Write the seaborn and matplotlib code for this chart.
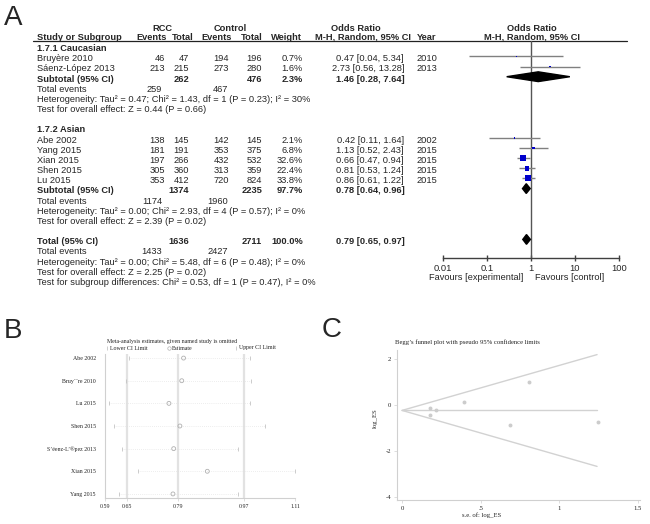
import numpy as np
import pandas as pd
import matplotlib
matplotlib.use("Agg")
import matplotlib.pyplot as plt
import seaborn as sns
from matplotlib.patches import Polygon
from matplotlib.ticker import NullLocator

# ---- data: forest plot (panel A) ----
studies = ["Bruyère 2010", "Sáenz-López 2013", "Abe 2002", "Yang 2015", "Xian 2015", "Shen 2015", "Lu 2015"]
rcc_events = [46, 213, 138, 181, 197, 305, 353]
rcc_total = [47, 215, 145, 191, 266, 360, 412]
ctl_events = [194, 273, 142, 353, 432, 313, 720]
ctl_total = [196, 280, 145, 375, 532, 359, 824]
weight = [0.7, 1.6, 2.1, 6.8, 32.6, 22.4, 33.8]
or_est = [0.47, 2.73, 0.42, 1.13, 0.66, 0.81, 0.86]
or_lo = [0.04, 0.56, 0.11, 0.52, 0.47, 0.53, 0.61]
or_hi = [5.34, 13.28, 1.64, 2.43, 0.94, 1.24, 1.22]
year = [2010, 2013, 2002, 2015, 2015, 2015, 2015]

pool_names = ["Subtotal (95% CI)", "Subtotal (95% CI)", "Total (95% CI)"]
pool_rcc_total = [262, 1374, 1636]
pool_ctl_total = [476, 2235, 2711]
pool_weight = ["2.3%", "97.7%", "100.0%"]
pool_est = [1.46, 0.78, 0.79]
pool_lo = [0.28, 0.64, 0.65]
pool_hi = [7.64, 0.96, 0.97]
events_rcc = [259, 1174, 1433]
events_ctl = [467, 1960, 2427]
het_text = [
    "Heterogeneity: Tau² = 0.47; Chi² = 1.43, df = 1 (P = 0.23); I² = 30%",
    "Heterogeneity: Tau² = 0.00; Chi² = 2.93, df = 4 (P = 0.57); I² = 0%",
    "Heterogeneity: Tau² = 0.00; Chi² = 5.48, df = 6 (P = 0.48); I² = 0%",
]
effect_text = [
    "Test for overall effect: Z = 0.44 (P = 0.66)",
    "Test for overall effect: Z = 2.39 (P = 0.02)",
    "Test for overall effect: Z = 2.25 (P = 0.02)",
]
subgroup_text = "Test for subgroup differences: Chi² = 0.53, df = 1 (P = 0.47), I² = 0%"
or_ticks = [0.01, 0.1, 1, 10, 100]
or_ticklabels = ["0.01", "0.1", "1", "10", "100"]

# ---- data: leave-one-out (panel B) ----
loo_names = ["Abe 2002", "Bruy\u00b4\u00a8re 2010", "Lu 2015", "Shen 2015",
             "S\u2019\u00e9enz-L\u2019\u00aepez 2013", "Xian 2015", "Yang 2015"]
loo_est = [0.805, 0.80, 0.765, 0.795, 0.778, 0.87, 0.776]
loo_lo = [0.656, 0.647, 0.60, 0.615, 0.636, 0.68, 0.628]
loo_hi = [0.987, 0.99, 0.987, 1.028, 0.954, 1.11, 0.955]
loo_ticks = [0.59, 0.65, 0.79, 0.97, 1.11]
loo_reflines = [0.65, 0.79, 0.97]

# ---- data: Begg's funnel (panel C) ----
se_log_es = [1.248, 0.808, 0.689, 0.393, 0.177, 0.217, 0.177]
log_es = [-0.755, 1.004, -0.868, 0.122, -0.416, -0.211, -0.151]
funnel_se = [0, 1.24]
funnel_mid = [-0.236, -0.236]
funnel_upper = [-0.236, 2.19]
funnel_lower = [-0.236, -2.67]

sns.set_style("white")
plt.rcParams["font.family"] = ["Liberation Sans", "DejaVu Sans"]
plt.rcParams["axes.unicode_minus"] = False

W, H = 650, 524
fig = plt.figure(figsize=(6.5, 5.24), dpi=100)
fig.patch.set_facecolor("white")

ax_t = fig.add_axes([0, 0, 1, 1])
ax_t.set_xlim(0, W)
ax_t.set_ylim(H, 0)
ax_t.axis("off")


def px_axes(l, t, r, b):
    a = fig.add_axes([l / W, 1 - b / H, (r - l) / W, (b - t) / H])
    a.set_facecolor("none")
    return a


FS = 6.7
ROW0, ROWH = 47.7, 10.17


def row_y(k):
    return ROW0 + ROWH * k + 3.3


def txt(x, k, s, ha="left", bold=False):
    ax_t.text(x, row_y(k), s, ha=ha, va="baseline", fontsize=FS,
              fontweight="bold" if bold else "normal")


# panel letters
for letter, (lx, ly) in {"A": (4, 25), "B": (4, 338), "C": (322, 337)}.items():
    ax_t.text(lx, ly, letter, fontsize=20, va="baseline", ha="left")

# table header
for s, x in [("RCC", 162), ("Control", 230), ("Odds Ratio", 356), ("Odds Ratio", 532)]:
    ax_t.text(x, 31, s, ha="center", va="baseline", fontsize=FS, fontweight="bold")
ax_t.text(37, 39.8, "Study or Subgroup", ha="left", va="baseline", fontsize=FS, fontweight="bold")
for s, x in [("Events", 152), ("Total", 183), ("Events", 217), ("Total", 252),
             ("Weight", 286), ("M-H, Random, 95% CI", 363), ("M-H, Random, 95% CI", 532)]:
    ax_t.text(x, 39.8, s, ha="center", va="baseline", fontsize=FS, fontweight="bold")
ax_t.text(417, 39.8, "Year", ha="left", va="baseline", fontsize=FS, fontweight="bold")
ax_t.plot([33, 627], [41, 41], color="#222222", lw=0.9)

cols = [165, 189, 229, 262, 303]
or_right = 404
study_rows = [1, 2, 9, 10, 11, 12, 13]
pool_rows = [3, 14, 19]
events_rows = [4, 15, 20]
het_rows = [5, 16, 21]
effect_rows = [6, 17, 22]

txt(37, 0, "1.7.1 Caucasian", bold=True)
txt(37, 8, "1.7.2 Asian", bold=True)
for i, k in enumerate(study_rows):
    txt(37, k, studies[i])
    vals = [rcc_events[i], rcc_total[i], ctl_events[i], ctl_total[i], f"{weight[i]:.1f}%"]
    for x, v in zip(cols, vals):
        txt(x, k, str(v), ha="right")
    txt(or_right, k, f"{or_est[i]:.2f} [{or_lo[i]:.2f}, {or_hi[i]:.2f}]", ha="right")
    txt(417, k, str(year[i]))
for i, k in enumerate(pool_rows):
    txt(37, k, pool_names[i], bold=True)
    txt(cols[1], k, str(pool_rcc_total[i]), ha="right", bold=True)
    txt(cols[3], k, str(pool_ctl_total[i]), ha="right", bold=True)
    txt(cols[4], k, pool_weight[i], ha="right", bold=True)
    txt(or_right + 1, k, f"{pool_est[i]:.2f} [{pool_lo[i]:.2f}, {pool_hi[i]:.2f}]", ha="right", bold=True)
for i, k in enumerate(events_rows):
    txt(37, k, "Total events")
    txt(162, k, str(events_rcc[i]), ha="right")
    txt(228, k, str(events_ctl[i]), ha="right")
for i, k in enumerate(het_rows):
    txt(37, k, het_text[i])
for i, k in enumerate(effect_rows):
    txt(37, k, effect_text[i])
txt(37, 23, subgroup_text)

# forest graphic
ax_f = px_axes(443, 41, 619, 258)
ax_f.set_xscale("log")
ax_f.set_xlim(0.01, 100)
y_top = (41 - (ROW0 - 1.5)) / ROWH
y_bot = (258 - (ROW0 - 1.5)) / ROWH
ax_f.set_ylim(y_bot, y_top)
ax_f.axvline(1, color="#555555", lw=1, zorder=1)
ax_f.hlines(study_rows, or_lo, or_hi, color="#808080", lw=1, zorder=2)
sq = pd.DataFrame({"est": or_est, "row": study_rows, "w": weight})
sns.scatterplot(data=sq, x="est", y="row", size="w", sizes=(0.6, 18.5), size_norm=(0.7, 33.8),
                marker="s", color="#0000cc", linewidth=0, legend=False, ax=ax_f, zorder=3)
for i, k in enumerate(pool_rows):
    hh = 0.48
    ax_f.add_patch(Polygon([(pool_lo[i], k), (pool_est[i], k - hh), (pool_hi[i], k), (pool_est[i], k + hh)],
                           closed=True, color="black", zorder=4))
for sp in ["top", "right", "left"]:
    ax_f.spines[sp].set_visible(False)
ax_f.spines["bottom"].set_color("#404040")
ax_f.spines["bottom"].set_linewidth(1)
ax_f.set_xticks(or_ticks)
ax_f.set_xticklabels(or_ticklabels)
ax_f.xaxis.set_minor_locator(NullLocator())
ax_f.set_yticks([])
ax_f.tick_params(axis="x", bottom=True, direction="inout", length=5, width=1, color="#404040",
                 labelsize=FS, pad=1.5)
ax_f.set_xlabel("")
ax_f.set_ylabel("")
ax_t.text(523, 279.5, "Favours [experimental]", ha="right", va="baseline", fontsize=FS)
ax_t.text(535, 279.5, "Favours [control]", ha="left", va="baseline", fontsize=FS)

# ---- panel B ----
SERIF = ["Liberation Serif", "DejaVu Serif"]
LG = "#c4c4c4"
ax_b = px_axes(105, 354, 295, 498)
ypos = np.arange(len(loo_names))
ax_b.set_xlim(0.59, 1.11)
ax_b.set_ylim(6.18, -0.18)
for v in loo_reflines:
    ax_b.axvline(v, color="#e2e2e2", lw=1.6, zorder=0)
ax_b.hlines(ypos, loo_lo, loo_hi, color="#dcdcdc", lw=0.5, linestyles=(0, (1, 2)), zorder=1)
ax_b.plot(loo_lo, ypos, linestyle="none", marker="|", ms=3.5, mew=0.6, color=LG, clip_on=False)
ax_b.plot(loo_hi, ypos, linestyle="none", marker="|", ms=3.5, mew=0.6, color=LG, clip_on=False)
sns.scatterplot(x=loo_est, y=ypos, marker="o", s=8, facecolor="none", edgecolor="#b0b0b0",
                linewidth=0.6, ax=ax_b, zorder=3, clip_on=False)
ax_b.set_xticks(loo_ticks)
ax_b.set_xticklabels([f"{v:.2f}" for v in loo_ticks])
ax_b.set_yticks(ypos)
ax_b.set_yticklabels(loo_names)
for sp in ["top", "right"]:
    ax_b.spines[sp].set_visible(False)
for sp in ["left", "bottom"]:
    ax_b.spines[sp].set_color("#d0d0d0")
    ax_b.spines[sp].set_linewidth(0.8)
ax_b.tick_params(axis="x", bottom=True, length=2, width=0.5, color="#d0d0d0", labelsize=4.2, pad=2,
                 labelcolor="#222222")
ax_b.tick_params(axis="y", left=False, labelsize=4.2, pad=3, labelcolor="#222222")
for lab in ax_b.get_xticklabels() + ax_b.get_yticklabels():
    lab.set_family(SERIF)
ax_t.text(107, 341, "Meta-analysis estimates, given named study is omitted", fontsize=4.2,
          family=SERIF, va="center", ha="left", color="#222222")
ax_t.plot([107], [348], marker="|", ms=3, mew=0.6, color=LG)
ax_t.text(110, 348, "Lower CI Limit", fontsize=4.2, family=SERIF, va="center", color="#222222")
ax_t.plot([168.5], [348], marker="o", ms=2.5, mew=0.5, mfc="none", color="#b0b0b0")
ax_t.text(171.5, 348, "Estimate", fontsize=4.2, family=SERIF, va="center", color="#222222")
ax_t.plot([236], [348], marker="|", ms=3, mew=0.6, color=LG)
ax_t.text(239, 348, "Upper CI Limit", fontsize=4.2, family=SERIF, va="center", color="#222222")

# ---- panel C ----
ax_c = px_axes(397, 350, 640, 500)
ax_c.set_xlim(-0.032, 1.513)
ax_c.set_ylim(-4.13, 2.39)
for yy in [funnel_mid, funnel_upper, funnel_lower]:
    sns.lineplot(x=funnel_se, y=yy, color="#d2d2d2", lw=1, ax=ax_c)
sns.scatterplot(x=se_log_es, y=log_es, marker="o", s=8, color="#cccccc", linewidth=0, ax=ax_c, zorder=3)
ax_c.set_xticks([0, 0.5, 1, 1.5])
ax_c.set_xticklabels(["0", ".5", "1", "1.5"])
ax_c.set_yticks([2, 0, -2, -4])
ax_c.set_yticklabels(["2", "0", "-2", "-4"])
for sp in ["top", "right"]:
    ax_c.spines[sp].set_visible(False)
for sp in ["left", "bottom"]:
    ax_c.spines[sp].set_color("#d0d0d0")
    ax_c.spines[sp].set_linewidth(0.8)
ax_c.tick_params(axis="both", bottom=True, left=True, length=2.5, width=0.5, color="#d0d0d0",
                 labelsize=4.8, pad=1.5, labelcolor="#222222")
for lab in ax_c.get_xticklabels() + ax_c.get_yticklabels():
    lab.set_family(SERIF)
ax_t.text(395, 342, "Begg\u2019s funnel plot with pseudo 95% confidence limits", fontsize=4.8,
          family=SERIF, va="center", ha="left", color="#222222")
ax_t.text(482, 515, "s.e. of: log_ES", fontsize=4.8, family=SERIF, va="center", ha="center", color="#222222")
ax_t.text(375, 418, "log_ES", fontsize=4.8, family=SERIF, va="center", ha="center", rotation=90,
          color="#222222")

fig.savefig("out.png", dpi=100)
